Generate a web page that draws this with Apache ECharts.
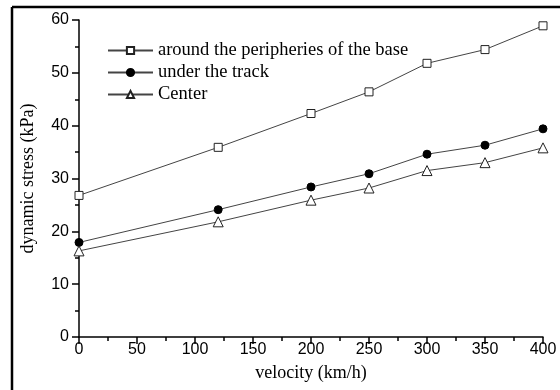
<!DOCTYPE html>
<html>
<head>
<meta charset="utf-8">
<script src="https://cdn.jsdelivr.net/npm/echarts@6/dist/echarts.min.js"></script>
<style>
  html, body { margin: 0; padding: 0; background: #fff; }
  #chart { width: 560px; height: 390px; }
</style>
</head>
<body>
<div id="chart"></div>
<script>
// velocity (km/h)
const velocity = [0, 120, 200, 250, 300, 350, 400]
// dynamic stress (kPa)
const peripheries = [26.8, 35.9, 42.3, 46.4, 51.8, 54.4, 58.9]
const underTrack = [17.9, 24.1, 28.4, 30.9, 34.6, 36.3, 39.4]
const center = [16.3, 21.8, 25.9, 28.2, 31.5, 33.0, 35.8]

const names = ['around the peripheries of the base', 'under the track', 'Center']

function pairs(ys) {
  return velocity.map((x, i) => [x, ys[i]])
}

const chart = echarts.init(document.getElementById('chart'))

const lineColor = '#444'
const serif = 'Liberation Serif, Times New Roman, serif'
const sans = 'Liberation Sans, Arial, sans-serif'

const option = {
  animation: false,
  backgroundColor: '#fff',
  grid: { left: 79, right: 17, top: 20, bottom: 53 },
  legend: {
    left: 102, top: 36,
    orient: 'vertical',
    itemWidth: 45, itemHeight: 9, itemGap: 3,
    textStyle: { fontFamily: serif, fontSize: 18.5, color: '#000' },
    data: names
  },
  xAxis: {
    type: 'value', min: 0, max: 400, interval: 50,
    name: 'velocity (km/h)', nameLocation: 'middle', nameGap: 27,
    nameTextStyle: { fontFamily: serif, fontSize: 18, color: '#000' },
    axisLine: { show: true, lineStyle: { color: '#000', width: 1.5 } },
    axisTick: { show: true, length: 7, lineStyle: { color: '#000', width: 1.5 } },
    minorTick: { show: true, splitNumber: 2, length: 4, lineStyle: { color: '#000', width: 1.5 } },
    axisLabel: { margin: 5, fontFamily: sans, fontSize: 16, color: '#000' },
    splitLine: { show: false }
  },
  yAxis: {
    type: 'value', min: 0, max: 60, interval: 10,
    name: 'dynamic stress (kPa)', nameLocation: 'middle', nameGap: 42,
    nameTextStyle: { fontFamily: serif, fontSize: 18, color: '#000' },
    axisLine: { show: true, lineStyle: { color: '#000', width: 1.5 } },
    axisTick: { show: true, length: 7, lineStyle: { color: '#000', width: 1.5 } },
    minorTick: { show: true, splitNumber: 2, length: 4, lineStyle: { color: '#000', width: 1.5 } },
    axisLabel: { margin: 10, fontFamily: sans, fontSize: 16, color: '#000' },
    splitLine: { show: false }
  },
  graphic: [
    { type: 'line', shape: { x1: 12, y1: 7, x2: 12, y2: 390 }, style: { stroke: '#000', lineWidth: 2.5 } },
    { type: 'line', shape: { x1: 12, y1: 7, x2: 560, y2: 7 }, style: { stroke: '#000', lineWidth: 2.5 } }
  ],
  series: [
    {
      name: names[0], type: 'line', data: pairs(peripheries),
      symbol: 'rect', symbolSize: 8,
      lineStyle: { color: lineColor, width: 1 },
      itemStyle: { color: '#fff', borderColor: '#222', borderWidth: 1 }
    },
    {
      name: names[1], type: 'line', data: pairs(underTrack),
      symbol: 'circle', symbolSize: 8,
      lineStyle: { color: lineColor, width: 1 },
      itemStyle: { color: '#000', borderColor: '#000', borderWidth: 1 }
    },
    {
      name: names[2], type: 'line', data: pairs(center),
      symbol: 'triangle', symbolSize: 10,
      lineStyle: { color: lineColor, width: 1 },
      itemStyle: { color: '#fff', borderColor: '#222', borderWidth: 1 }
    }
  ]
}

chart.setOption(option)
</script>
</body>
</html>
